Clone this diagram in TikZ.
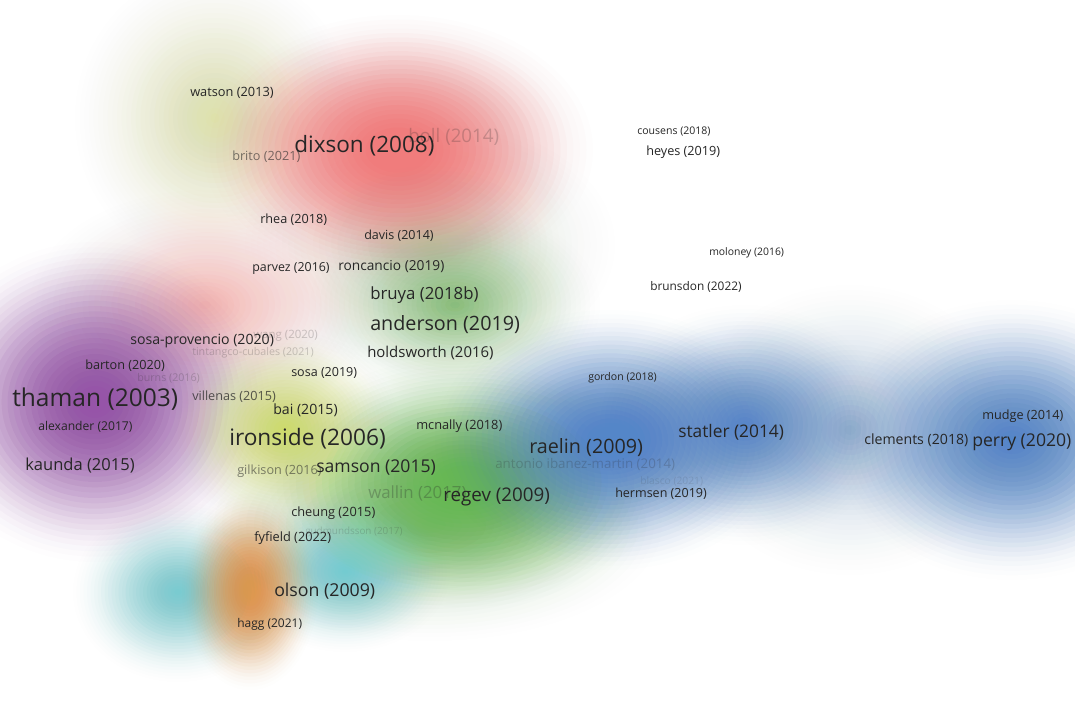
\documentclass[tikz,border=0pt]{standalone}
\usepackage{fontspec}
\setmainfont{Open Sans}

\definecolor{vred}{RGB}{240,124,124}
\definecolor{vpink}{RGB}{244,165,160}
\definecolor{vpur}{RGB}{150,84,168}
\definecolor{vgrn}{RGB}{104,184,84}
\definecolor{vblu}{RGB}{84,134,200}
\definecolor{vyel}{RGB}{222,226,160}
\definecolor{vorg}{RGB}{222,152,80}
\definecolor{vcyn}{RGB}{115,203,208}
\definecolor{vlime}{RGB}{205,218,95}
\definecolor{vsage}{RGB}{200,220,190}
\definecolor{labc}{RGB}{38,38,38}

% soft density blob: 30 concentric ellipses, inner layers more opaque,
% so the density falls off smoothly to zero at the rim
% #1 colour, #2 strength, #3,#4 centre, #5,#6 radii
\newcommand\blob[6]{%
  \foreach \k in {1,...,30}{%
    \pgfmathsetmacro\layerop{min(0.95,(2*#2/30)*(1-\k/31))}%
    \fill[#1, fill opacity=\layerop] (#3,#4) ellipse [x radius={#5*\k/30}, y radius={#6*\k/30}];}}
\newcommand\fsz[1]{\fontsize{#1}{#1}\selectfont}

\tikzset{
  lab/.style={anchor=west, inner sep=0pt, text=labc},
  faint/.style={lab, text opacity=0.22},
}

\begin{document}
\begin{tikzpicture}[x=0.75pt,y=-0.75pt]
\useasboundingbox (0,0) rectangle (1075,706);
\fill[white] (0,0) rectangle (1075,706);

% ---- density field ----
% pale olive, upper left
\blob{vyel}{1.3}{215}{118}{140}{150}
% pale sage, centre
\blob{vsage}{1.2}{430}{245}{185}{125}
% red cluster
\blob{vred}{3.2}{398}{150}{195}{135}
% pink wash between the red and purple clusters
\blob{vpink}{1.1}{205}{305}{175}{115}
% purple cluster
\blob{vpur}{3}{95}{402}{175}{160}
% green cluster
\blob{vgrn}{1.0}{455}{305}{145}{100}
\blob{vgrn}{0.8}{430}{525}{240}{120}
\blob{vgrn}{3}{465}{482}{195}{125}
% yellow-green near centre
\blob{vlime}{1.8}{285}{430}{115}{100}
% blue clusters
\blob{vblu}{0.6}{850}{430}{170}{150}
\blob{vblu}{3}{610}{440}{175}{130}
\blob{vblu}{2}{745}{425}{145}{120}
\blob{vblu}{2.6}{1012}{440}{180}{140}
% teal and orange, lower left
\blob{vcyn}{2}{178}{592}{105}{90}
\blob{vcyn}{2}{345}{572}{105}{80}
\blob{vorg}{3}{250}{590}{68}{100}

% ---- faint labels ----
\node[faint, font=\fsz{14}] (boll) at (408,137) {boll (2014)};
\node[faint, font=\fsz{8.6}] (wang) at (253,336) {wang (2020)};
\node[faint, font=\fsz{8}] (tintangco) at (192,353) {tintangco-cubales (2021)};
\node[faint, font=\fsz{8}] (burns) at (137,378) {burns (2016)};
\node[faint, font=\fsz{10}] (ibanez) at (495,464) {antonio ibanez-martin (2014)};
\node[faint, font=\fsz{7.7}, text opacity=0.12] (blasco) at (640,481) {blasco (2021)};
\node[faint, font=\fsz{12.6}, text opacity=0.28] (wallin) at (368,493) {wallin (2017)};
\node[faint, font=\fsz{7.4}, text opacity=0.18] (gudmundsson) at (305,532) {gudmundsson (2017)};
\node[lab, font=\fsz{9.5}, text opacity=0.6] (brito) at (232,157) {brito (2021)};
\node[lab, font=\fsz{9.5}, text opacity=0.55] (gilkison) at (237,471) {gilkison (2016)};
\node[lab, font=\fsz{9.5}, text opacity=0.75] (villenas) at (192,397) {villenas (2015)};

% ---- labels ----
\node[lab, font=\fsz{9.6}] (watson) at (190,93) {watson (2013)};
\node[lab, font=\fsz{16.9}] (dixson) at (294,146) {dixson (2008)};
\node[lab, font=\fsz{7.9}] (cousens) at (637,132) {cousens (2018)};
\node[lab, font=\fsz{9.5}] (heyes) at (646,152) {heyes (2019)};
\node[lab, font=\fsz{9.5}] (rhea) at (260,220) {rhea (2018)};
\node[lab, font=\fsz{9.4}] (davis) at (364,236) {davis (2014)};
\node[lab, font=\fsz{7.8}] (moloney) at (709,253) {moloney (2016)};
\node[lab, font=\fsz{9.3}] (parvez) at (252,268) {parvez (2016)};
\node[lab, font=\fsz{10.3}] (roncancio) at (338,267) {roncancio (2019)};
\node[lab, font=\fsz{8.9}] (brunsdon) at (650,287) {brunsdon (2022)};
\node[lab, font=\fsz{12.6}] (bruya) at (370,295) {bruya (2018b)};
\node[lab, font=\fsz{14.8}] (anderson) at (370,325) {anderson (2019)};
\node[lab, font=\fsz{10.6}] (sosaprov) at (130,341) {sosa-provencio (2020)};
\node[lab, font=\fsz{11.2}] (holdsworth) at (367,353) {holdsworth (2016)};
\node[lab, font=\fsz{9.5}] (barton) at (85,366) {barton (2020)};
\node[lab, font=\fsz{9.4}] (sosa) at (291,373) {sosa (2019)};
\node[lab, font=\fsz{7.9}] (gordon) at (588,378) {gordon (2018)};
\node[lab, font=\fsz{18.4}] (thaman) at (12,399) {thaman (2003)};
\node[lab, font=\fsz{10.6}] (bai) at (273,410) {bai (2015)};
\node[lab, font=\fsz{9.5}] (mudge) at (982,416) {mudge (2014)};
\node[lab, font=\fsz{9.1}] (alexander) at (38,427) {alexander (2017)};
\node[lab, font=\fsz{9.6}] (mcnally) at (416,426) {mcnally (2018)};
\node[lab, font=\fsz{13}] (statler) at (678,432) {statler (2014)};
\node[lab, font=\fsz{17}] (ironside) at (229,439) {ironside (2006)};
\node[lab, font=\fsz{10.6}] (clements) at (864,440) {clements (2018)};
\node[lab, font=\fsz{13.2}] (perry) at (972,442) {perry (2020)};
\node[lab, font=\fsz{14.8}] (raelin) at (529,448) {raelin (2009)};
\node[lab, font=\fsz{12.4}] (kaunda) at (25,466) {kaunda (2015)};
\node[lab, font=\fsz{13.2}] (samson) at (316,468) {samson (2015)};
\node[lab, font=\fsz{14.1}] (regev) at (443,497) {regev (2009)};
\node[lab, font=\fsz{9.4}] (hermsen) at (615,494) {hermsen (2019)};
\node[lab, font=\fsz{9.6}] (cheung) at (291,513) {cheung (2015)};
\node[lab, font=\fsz{9.6}] (fyfield) at (254,538) {fyfield (2022)};
\node[lab, font=\fsz{13.3}] (olson) at (274,591) {olson (2009)};
\node[lab, font=\fsz{9}] (hagg) at (237,624) {hagg (2021)};
\end{tikzpicture}
\end{document}
